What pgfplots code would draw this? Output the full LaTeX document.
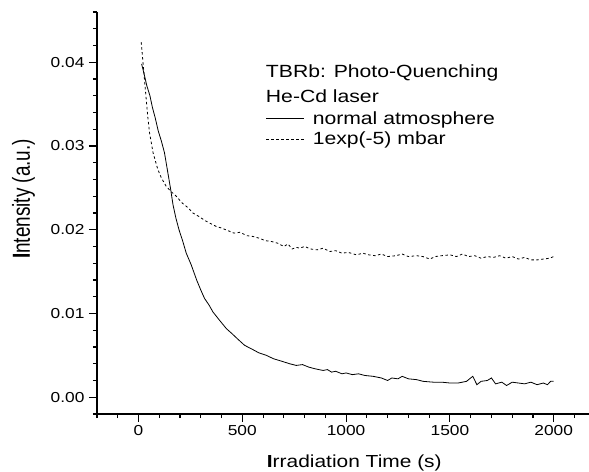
\documentclass[border=0pt]{standalone}
\usepackage{fontspec}
\setmainfont{Liberation Sans}[FakeStretch=1.2]
\newfontfamily\ylfont{Liberation Sans}
\usepackage{graphicx}
\usepackage{pgfplots}
\pgfplotsset{compat=1.18}
\usepackage{pgfplotstable}

\pgfplotstableread{
t y
15 0.0398
25 0.0388
40 0.0372
55 0.0360
67 0.0346
80 0.0334
95 0.0318
110 0.0306
125 0.0292
140 0.0270
155 0.0248
166 0.0230
180 0.0214
195 0.0200
211 0.0188
230 0.0172
254 0.0158
280 0.0140
300 0.0128
318 0.0118
340 0.0110
358 0.0102
390 0.0092
423 0.0082
450 0.0076
480 0.0069
511 0.0062
550 0.0057
580 0.0053
616 0.0050
650 0.0046
690 0.0043
728 0.0040
760 0.0038
790 0.0039
820 0.0036
850 0.0034
889 0.0032
910 0.0033
930 0.0030
950 0.0031
980 0.0028
1000 0.0029
1030 0.0027
1060 0.0028
1090 0.0026
1130 0.0025
1170 0.0023
1200 0.0020
1220 0.0023
1250 0.0022
1270 0.0025
1300 0.0022
1340 0.0021
1371 0.0019
1420 0.0018
1460 0.0018
1500 0.0017
1540 0.0017
1580 0.0019
1610 0.0025
1630 0.0015
1650 0.0019
1680 0.0020
1700 0.0023
1720 0.0016
1750 0.0018
1773 0.0014
1800 0.0018
1830 0.0017
1860 0.0016
1890 0.0018
1920 0.0015
1950 0.0017
1970 0.0015
1985 0.0019
2000 0.0019
}\normalatm

\pgfplotstableread{
t y
13 0.0424
25 0.0390
37 0.0356
45 0.0334
53 0.0316
70 0.0292
93 0.0272
110 0.0262
133 0.0252
155 0.0246
182 0.0240
210 0.0232
240 0.0226
262 0.0220
290 0.0216
320 0.0211
350 0.0207
374 0.0204
400 0.0202
430 0.0199
460 0.0196
490 0.0197
520 0.0193
551 0.0192
580 0.0190
610 0.0187
640 0.0186
670 0.0184
700 0.0180
720 0.0183
740 0.0177
760 0.0179
776 0.0178
800 0.0180
830 0.0177
860 0.0176
890 0.0178
920 0.0174
950 0.0175
980 0.0172
1010 0.0173
1050 0.0170
1080 0.0172
1110 0.0170
1140 0.0169
1170 0.0171
1200 0.0168
1240 0.0169
1270 0.0171
1300 0.0168
1340 0.0169
1370 0.0168
1403 0.0165
1430 0.0168
1460 0.0169
1500 0.0170
1532 0.0168
1560 0.0171
1590 0.0168
1620 0.0169
1650 0.0166
1680 0.0168
1710 0.0167
1740 0.0169
1770 0.0166
1800 0.0168
1830 0.0165
1860 0.0167
1890 0.0164
1920 0.0164
1950 0.0165
1980 0.0166
2000 0.0168
}\vacuum

\begin{document}
\begin{tikzpicture}
\begin{axis}[
  scale only axis,
  width=492bp, height=402bp,
  xmin=-200, xmax=2170,
  ymin=-0.002, ymax=0.046,
  axis lines=left,
  x axis line style={-}, y axis line style={-},
  axis line style={line width=1.2bp},
  every tick/.style={line width=1.1bp, black},
  tick align=outside,
  major tick length=8bp, minor tick length=4bp,
  xtick={0,500,1000,1500,2000},
  minor xtick={-200,-100,0,100,200,300,400,500,600,700,800,900,1000,1100,1200,1300,1400,1500,1600,1700,1800,1900,2000,2100},
  ytick={0,0.01,0.02,0.03,0.04},
  minor ytick={-0.002,0,0.002,0.004,0.006,0.008,0.010,0.012,0.014,0.016,0.018,0.020,0.022,0.024,0.026,0.028,0.030,0.032,0.034,0.036,0.038,0.040,0.042,0.044,0.046},
  /pgf/number format/assume math mode=true,
  /pgf/number format/1000 sep={},
  yticklabel style={/pgf/number format/fixed, /pgf/number format/precision=2, /pgf/number format/fixed zerofill, xshift=-1bp},
  scaled y ticks=false,
  tick label style={font=\fontsize{14.5}{16}\selectfont},
  xlabel={\textbf{I}rradiation Time (s)},
  ylabel={\scalebox{1}[1.3]{\ylfont\textbf{I}ntensity (a.u.)}},
  xlabel style={at={(axis description cs:0.523,-0.1343)}, anchor=base, inner sep=0pt, font=\fontsize{17.5}{20}\selectfont},
  ylabel style={at={(axis description cs:-0.173,0.535)}, anchor=north, inner sep=0pt, font=\fontsize{19}{22}\selectfont},
  legend style={draw=none, fill=none, at={(axis description cs:0.343,0.756)}, anchor=north west, inner sep=0pt, font=\fontsize{17.7}{20}\selectfont, row sep=4.5bp, nodes={inner sep=1bp}, /tikz/every odd column/.append style={column sep=7bp}},
  legend cell align=left,
  legend image code/.code={\draw[#1] (0bp,0bp) -- (38bp,0bp);},
  clip=false,
]
\addplot[black, line width=0.8bp] table[x=t, y=y] {\normalatm};
\addlegendentry{normal atmosphere}
\addplot[black, line width=0.8bp, dash pattern=on 2.5bp off 2.5bp] table[x=t, y=y] {\vacuum};
\addlegendentry{1exp(-5) mbar}
\node[anchor=base west, inner sep=0pt, font=\fontsize{17.7}{20}\selectfont] at (axis description cs:0.343,0.838) {TBRb: Photo-Quenching};
\node[anchor=base west, inner sep=0pt, font=\fontsize{17.7}{20}\selectfont] at (axis description cs:0.343,0.776) {He-Cd laser};
\end{axis}
\pgfresetboundingbox
\path[use as bounding box] ([xshift=-97bp,yshift=-58bp]current axis.south west) rectangle ([yshift=12bp]current axis.north east);
\end{tikzpicture}
\end{document}
